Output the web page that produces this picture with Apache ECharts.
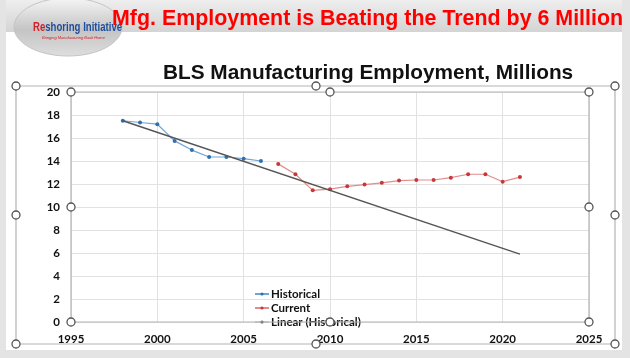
<!DOCTYPE html>
<html><head><meta charset="utf-8">
<script src="https://cdn.jsdelivr.net/npm/echarts@6/dist/echarts.min.js"></script>
<style>html,body{margin:0;padding:0;background:#e4e4e4}#c{width:630px;height:358px}</style>
</head><body><div id="c"></div>
<script>
// Data
const historicalYears = [1998, 1999, 2000, 2001, 2002, 2003, 2004, 2005, 2006];
const historicalValues = [17.5, 17.35, 17.2, 15.75, 14.95, 14.35, 14.35, 14.2, 14.0];
const currentYears = [2007, 2008, 2009, 2010, 2011, 2012, 2013, 2014, 2015, 2016, 2017, 2018, 2019, 2020, 2021];
const currentValues = [13.75, 12.85, 11.45, 11.55, 11.8, 11.95, 12.1, 12.3, 12.35, 12.35, 12.55, 12.85, 12.85, 12.2, 12.6];
const trendYears = [1998, 2021];
const trendValues = [17.5, 5.9];
const xTicks = [1995, 2000, 2005, 2010, 2015, 2020, 2025];
const yTicks = [0, 2, 4, 6, 8, 10, 12, 14, 16, 18, 20];
const seriesNames = ['Historical', 'Current', 'Linear (Historical)'];
const headline = 'Mfg. Employment is Beating the Trend by 6 Million';
const chartTitle = 'BLS Manufacturing Employment, Millions';

const zip = (xs, ys) => xs.map((x, i) => [x, ys[i]]);
const chart = echarts.init(document.getElementById('c'), null, {renderer: 'canvas'});

function handle(x, y) {
  return {type: 'circle', shape: {cx: x, cy: y, r: 4}, style: {fill: '#fff', stroke: '#555', lineWidth: 1.3}, z: 100};
}
const frameHandles = [[16,86],[316,86],[615,86],[16,215],[615,215],[16,344],[316,344],[615,344]];
const plotHandles = [[71,92],[330,92],[589,92],[71,207],[589,207],[71,322],[330,322],[589,322]];

const axisLabelStyle = {color: '#111', fontFamily: 'Lato', fontWeight: 'bold', fontSize: 11.5};

chart.setOption({
  animation: false,
  backgroundColor: '#e4e4e4',
  grid: {left: 71, top: 92, width: 518, height: 230, show: false},
  xAxis: {
    type: 'value', min: xTicks[0], max: xTicks[xTicks.length - 1], interval: 5,
    axisLine: {show: false}, axisTick: {show: false},
    splitLine: {show: true, lineStyle: {color: '#e2e2e2', width: 1}},
    axisLabel: Object.assign({margin: 11, formatter: v => String(v)}, axisLabelStyle)
  },
  yAxis: {
    type: 'value', min: yTicks[0], max: yTicks[yTicks.length - 1], interval: 2,
    axisLine: {show: false}, axisTick: {show: false},
    splitLine: {show: true, lineStyle: {color: '#e2e2e2', width: 1}},
    axisLabel: Object.assign({margin: 11}, axisLabelStyle)
  },
  legend: {
    orient: 'vertical', left: 249, top: 283, itemGap: 2, itemWidth: 14, itemHeight: 4,
    data: [seriesNames[0], seriesNames[1], {name: seriesNames[2], lineStyle: {color: '#b4b4b4', width: 1.2}}],
    textStyle: {color: '#111', fontFamily: 'Lato', fontWeight: 'bold', fontSize: 11.5, padding: [0,0,0,-3]}
  },
  series: [
    {name: seriesNames[0], type: 'line', data: zip(historicalYears, historicalValues),
     symbol: 'circle', symbolSize: 4, lineStyle: {color: '#6fa6d8', width: 1.2},
     itemStyle: {color: '#2f6fb0'}, z: 3},
    {name: seriesNames[1], type: 'line', data: zip(currentYears, currentValues),
     symbol: 'circle', symbolSize: 4, lineStyle: {color: '#e48c8c', width: 1.2},
     itemStyle: {color: '#c8383a'}, z: 3},
    {name: seriesNames[2], type: 'line', data: zip(trendYears, trendValues),
     symbol: 'none', lineStyle: {color: '#555', width: 1.4}, itemStyle: {color: '#555'}, z: 4}
  ],
  graphic: [
    {type: 'rect', shape: {x: 6, y: 0, width: 616, height: 350}, style: {fill: '#fff'}, z: -10, silent: true},
    {type: 'rect', shape: {x: 6, y: 0, width: 616, height: 32},
     style: {fill: new echarts.graphic.LinearGradient(0, 0, 0, 1, [{offset: 0, color: '#eeeeee'}, {offset: 1, color: '#d4d4d4'}])}, z: -9},
    {type: 'ellipse', shape: {cx: 68, cy: 27, rx: 54, ry: 29},
     style: {fill: new echarts.graphic.LinearGradient(0, 0, 0, 1, [{offset: 0, color: '#f6f6f6'}, {offset: 0.55, color: '#c4c4c4'}, {offset: 1, color: '#dedede'}]), stroke: '#c4c4c4', lineWidth: 1}, z: -8},
    {type: 'text', x: 33, y: 22, scaleX: 0.8, z: 5, style: {rich: {a: {fill: '#d0202a', fontFamily: 'Liberation Sans', fontWeight: 'bold', fontSize: 12}, b: {fill: '#1f4e9c', fontFamily: 'Liberation Sans', fontWeight: 'bold', fontSize: 12}}, text: '{a|Re}{b|shoring Initiative}'}},
    {type: 'text', x: 42, y: 36, z: 5, style: {text: 'Bringing Manufacturing Back Home', fill: '#d0202a', fontSize: 4, fontStyle: 'italic', fontFamily: 'Liberation Sans'}},
    {type: 'text', left: 112, top: 9, z: 5, style: {text: headline, fill: '#ff0000', fontFamily: 'Liberation Sans', fontWeight: 'bold', fontSize: 21.4}},
    {type: 'text', left: 163, top: 63, z: 5, style: {text: chartTitle, fill: '#111', fontFamily: 'Liberation Sans', fontWeight: 'bold', fontSize: 20.8}},
    {type: 'rect', shape: {x: 16, y: 86, width: 599, height: 258}, style: {fill: 'none', stroke: '#b4b4b4', lineWidth: 1.2}, z: 50},
    {type: 'rect', shape: {x: 71, y: 92, width: 518, height: 230}, style: {fill: 'none', stroke: '#b4b4b4', lineWidth: 1.2}, z: 50}
  ].concat(frameHandles.map(p => handle(p[0], p[1])), plotHandles.map(p => handle(p[0], p[1])))
});
</script></body></html>
